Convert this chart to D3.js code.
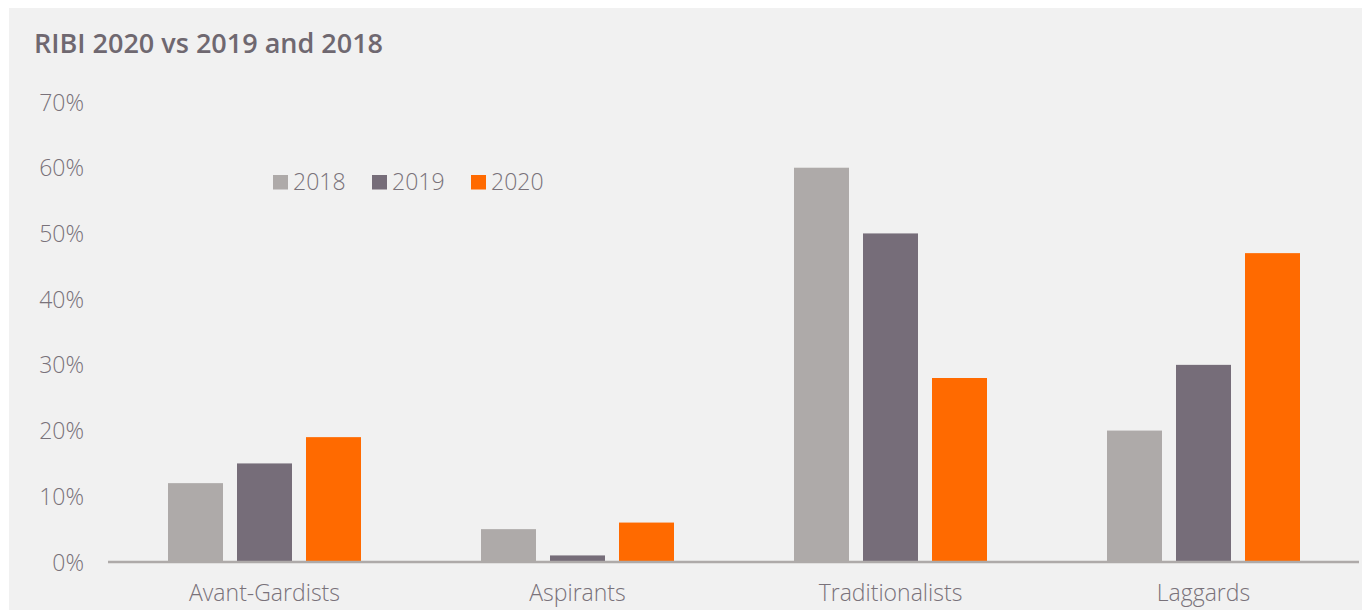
<!DOCTYPE html>
<html><head><meta charset="utf-8">
<script src="https://cdn.jsdelivr.net/npm/d3@7"></script>
<style>body{margin:0;background:#fff;}svg{display:block;font-family:"Open Sans",sans-serif;}</style>
</head><body><svg id="c" width="1362" height="610"></svg>
<script>
const categories = ["Avant-Gardists","Aspirants","Traditionalists","Laggards"];
const seriesNames = ["2018","2019","2020"];
const values2018 = [12,5,60,20];
const values2019 = [15,1,50,30];
const values2020 = [19,6,28,47];
const yTicks = [0,10,20,30,40,50,60,70];
const colors = ["#aeaaa9","#766d79","#ff6a00"];
const seriesValues = [values2018, values2019, values2020];
const FONT = "'Open Sans',sans-serif";
const TXT = "#79727a";

const svg = d3.select("#c");
svg.append("rect").attr("x",9).attr("y",8).attr("width",1353).attr("height",602).attr("fill","#f1f1f1");

const x0 = d3.scaleBand().domain(categories).range([108,1360]).paddingInner(0).paddingOuter(0);
const y = d3.scaleLinear().domain([0,70]).range([562,102]);
const bw = 55, gap = 14;
const x1 = d3.scaleBand().domain(seriesNames).range([0, bw*3+gap*2]).paddingInner(gap/(bw+gap)).paddingOuter(0);

svg.append("text").attr("x",34).attr("y",53).text("RIBI 2020 vs 2019 and 2018")
  .attr("font-size",27).attr("font-weight",600).attr("fill","#6f6870").attr("font-family",FONT);

// y tick labels
const yAxis = d3.axisLeft(y).tickValues(yTicks).tickFormat(d=>d+"%").tickSize(0).tickPadding(0);
const ga = svg.append("g").attr("transform","translate(84,0)").call(yAxis);
ga.select(".domain").remove();
ga.selectAll("text").attr("font-size",23).attr("fill",TXT).attr("font-family",FONT).attr("font-weight",300).attr("dy","0.35em");

// bars
categories.forEach((c,i)=>{
  const gw = x1.range()[1];
  const gx = x0(c) + (x0.bandwidth()-gw)/2;
  seriesNames.forEach((s,j)=>{
    const v = seriesValues[j][i];
    svg.append("rect").attr("x",gx+x1(s)).attr("width",x1.bandwidth())
      .attr("y",y(v)).attr("height",y(0)-y(v)).attr("fill",colors[j]);
  });
});

// x axis
const xAxis = d3.axisBottom(x0).tickSize(0).tickPadding(23);
const gx = svg.append("g").attr("transform","translate(0,562)").call(xAxis);
gx.select(".domain").attr("stroke","#aeaaa9").attr("stroke-width",2.5).attr("d","M108,0H1359");
gx.selectAll("text").attr("font-size",23).attr("fill",TXT).attr("font-family",FONT).attr("font-weight",300);

// legend
const legX = [273,372,471];
seriesNames.forEach((s,j)=>{
  svg.append("rect").attr("x",legX[j]).attr("y",175).attr("width",15).attr("height",14.5).attr("fill",colors[j]);
  svg.append("text").attr("x",legX[j]+20).attr("y",189.5).text(s).attr("font-size",23).attr("font-weight",300).attr("font-family",FONT).attr("fill",TXT);
});
</script></body></html>
